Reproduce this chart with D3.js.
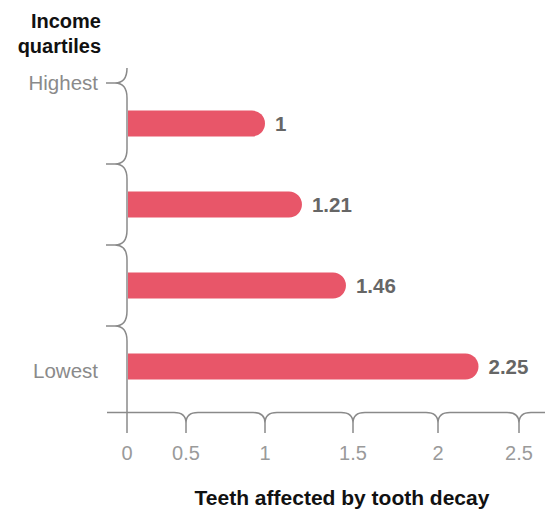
<!DOCTYPE html>
<html>
<head>
<meta charset="utf-8">
<script src="https://cdn.jsdelivr.net/npm/d3@7"></script>
<style>
  html, body { margin: 0; padding: 0; background: #fff; }
  svg { display: block; font-family: "Liberation Sans", Arial, sans-serif; }
</style>
</head>
<body>
<svg id="chart" width="545" height="510"></svg>
<script>
// ---- data ----
const quartiles = ["Highest", "Upper middle", "Lower middle", "Lowest"];
const quartileLabels = ["Highest", "", "", "Lowest"];
const teethAffected = [1, 1.21, 1.46, 2.25];
const xTicks = [0, 0.5, 1, 1.5, 2, 2.5];
const xTickLabels = ["0", "0.5", "1", "1.5", "2", "2.5"];
const yTitle = ["Income", "quartiles"];
const xTitle = "Teeth affected by tooth decay";

// ---- layout ----
const svg = d3.select("#chart");
const axisX = 127, axisY = 412.5;
const axisColor = "#8a8a8a";
const barColor = "#e85669";

// piecewise scale through the drawn tick positions
const x = d3.scaleLinear()
  .domain(xTicks)
  .range([127, 186, 265, 353, 438, 519]);

const y = d3.scaleBand()
  .domain(quartiles)
  .range([83, 407])
  .padding(0);

const barH = 26;

// ---- left brace axis ----
const tips = quartiles.map(q => y(q)); // band top boundaries
let p = d3.path();
const r = 15, dx = 12;
p.moveTo(axisX, tips[0] - r);
tips.forEach((t, i) => {
  p.quadraticCurveTo(axisX, t, axisX - dx, t);
  p.quadraticCurveTo(axisX, t, axisX, t + r);
  const next = i < tips.length - 1 ? tips[i + 1] - r : 433;
  p.lineTo(axisX, next);
});
svg.append("path").attr("d", p.toString())
  .attr("fill", "none").attr("stroke", axisColor).attr("stroke-width", 1.5);
svg.selectAll("line.stub").data(tips).join("line")
  .attr("class", "stub")
  .attr("x1", axisX - dx).attr("x2", axisX - 21)
  .attr("y1", d => d).attr("y2", d => d)
  .attr("stroke", axisColor).attr("stroke-width", 1.5);

// ---- bottom brace axis ----
let q = d3.path();
const bx = 12, by = 10.5;
q.moveTo(107, axisY);
xTicks.slice(1).forEach(v => {
  const tx = x(v);
  q.lineTo(tx - bx, axisY);
  q.quadraticCurveTo(tx, axisY, tx, axisY + by);
  q.lineTo(tx, 433);
  q.moveTo(tx, axisY + by);
  q.quadraticCurveTo(tx, axisY, tx + bx, axisY);
});
q.lineTo(545, axisY);
svg.append("path").attr("d", q.toString())
  .attr("fill", "none").attr("stroke", axisColor).attr("stroke-width", 1.5);

svg.selectAll("text.tick").data(xTicks).join("text")
  .attr("class", "tick")
  .attr("x", d => x(d)).attr("y", 460)
  .attr("text-anchor", "middle")
  .attr("fill", "#9a9a9a")
  .attr("font-size", 20)
  .text((d, i) => xTickLabels[i]);

// ---- bars ----
function barPath(x0, x1, yc, h) {
  const rr = h / 2;
  const pp = d3.path();
  pp.moveTo(x0, yc - rr);
  pp.lineTo(x1 - rr, yc - rr);
  pp.arc(x1 - rr, yc, rr, -Math.PI / 2, Math.PI / 2);
  pp.lineTo(x0, yc + rr);
  pp.closePath();
  return pp.toString();
}
svg.selectAll("path.bar").data(teethAffected).join("path")
  .attr("class", "bar")
  .attr("fill", barColor)
  .attr("d", (d, i) => barPath(x(0) + 1, x(d), y(quartiles[i]) + y.bandwidth() / 2, barH));

svg.selectAll("text.val").data(teethAffected).join("text")
  .attr("class", "val")
  .attr("x", d => x(d) + 10)
  .attr("y", (d, i) => y(quartiles[i]) + y.bandwidth() / 2)
  .attr("dy", "0.36em")
  .attr("fill", "#666")
  .attr("font-size", 20.5)
  .attr("font-weight", "bold")
  .text(d => d);

// ---- category labels ----
svg.append("text")
  .attr("x", 98).attr("y", y(quartiles[0])).attr("dy", "0.36em")
  .attr("text-anchor", "end").attr("fill", "#8a8a8a").attr("font-size", 20.5)
  .text(quartileLabels[0]);
svg.append("text")
  .attr("x", 98).attr("y", y(quartiles[3]) + y.bandwidth() / 2 + 4).attr("dy", "0.36em")
  .attr("text-anchor", "end").attr("fill", "#8a8a8a").attr("font-size", 20.5)
  .text(quartileLabels[3]);

// ---- titles ----
svg.append("text")
  .attr("text-anchor", "end").attr("x", 101).attr("fill", "#111")
  .attr("font-size", 20).attr("font-weight", "bold")
  .selectAll("tspan").data(yTitle).join("tspan")
  .attr("x", 101).attr("y", (d, i) => 28 + i * 25)
  .text(d => d);

svg.append("text")
  .attr("x", 342).attr("y", 505)
  .attr("text-anchor", "middle").attr("fill", "#111")
  .attr("font-size", 21).attr("font-weight", "bold")
  .text(xTitle);
</script>
</body>
</html>
